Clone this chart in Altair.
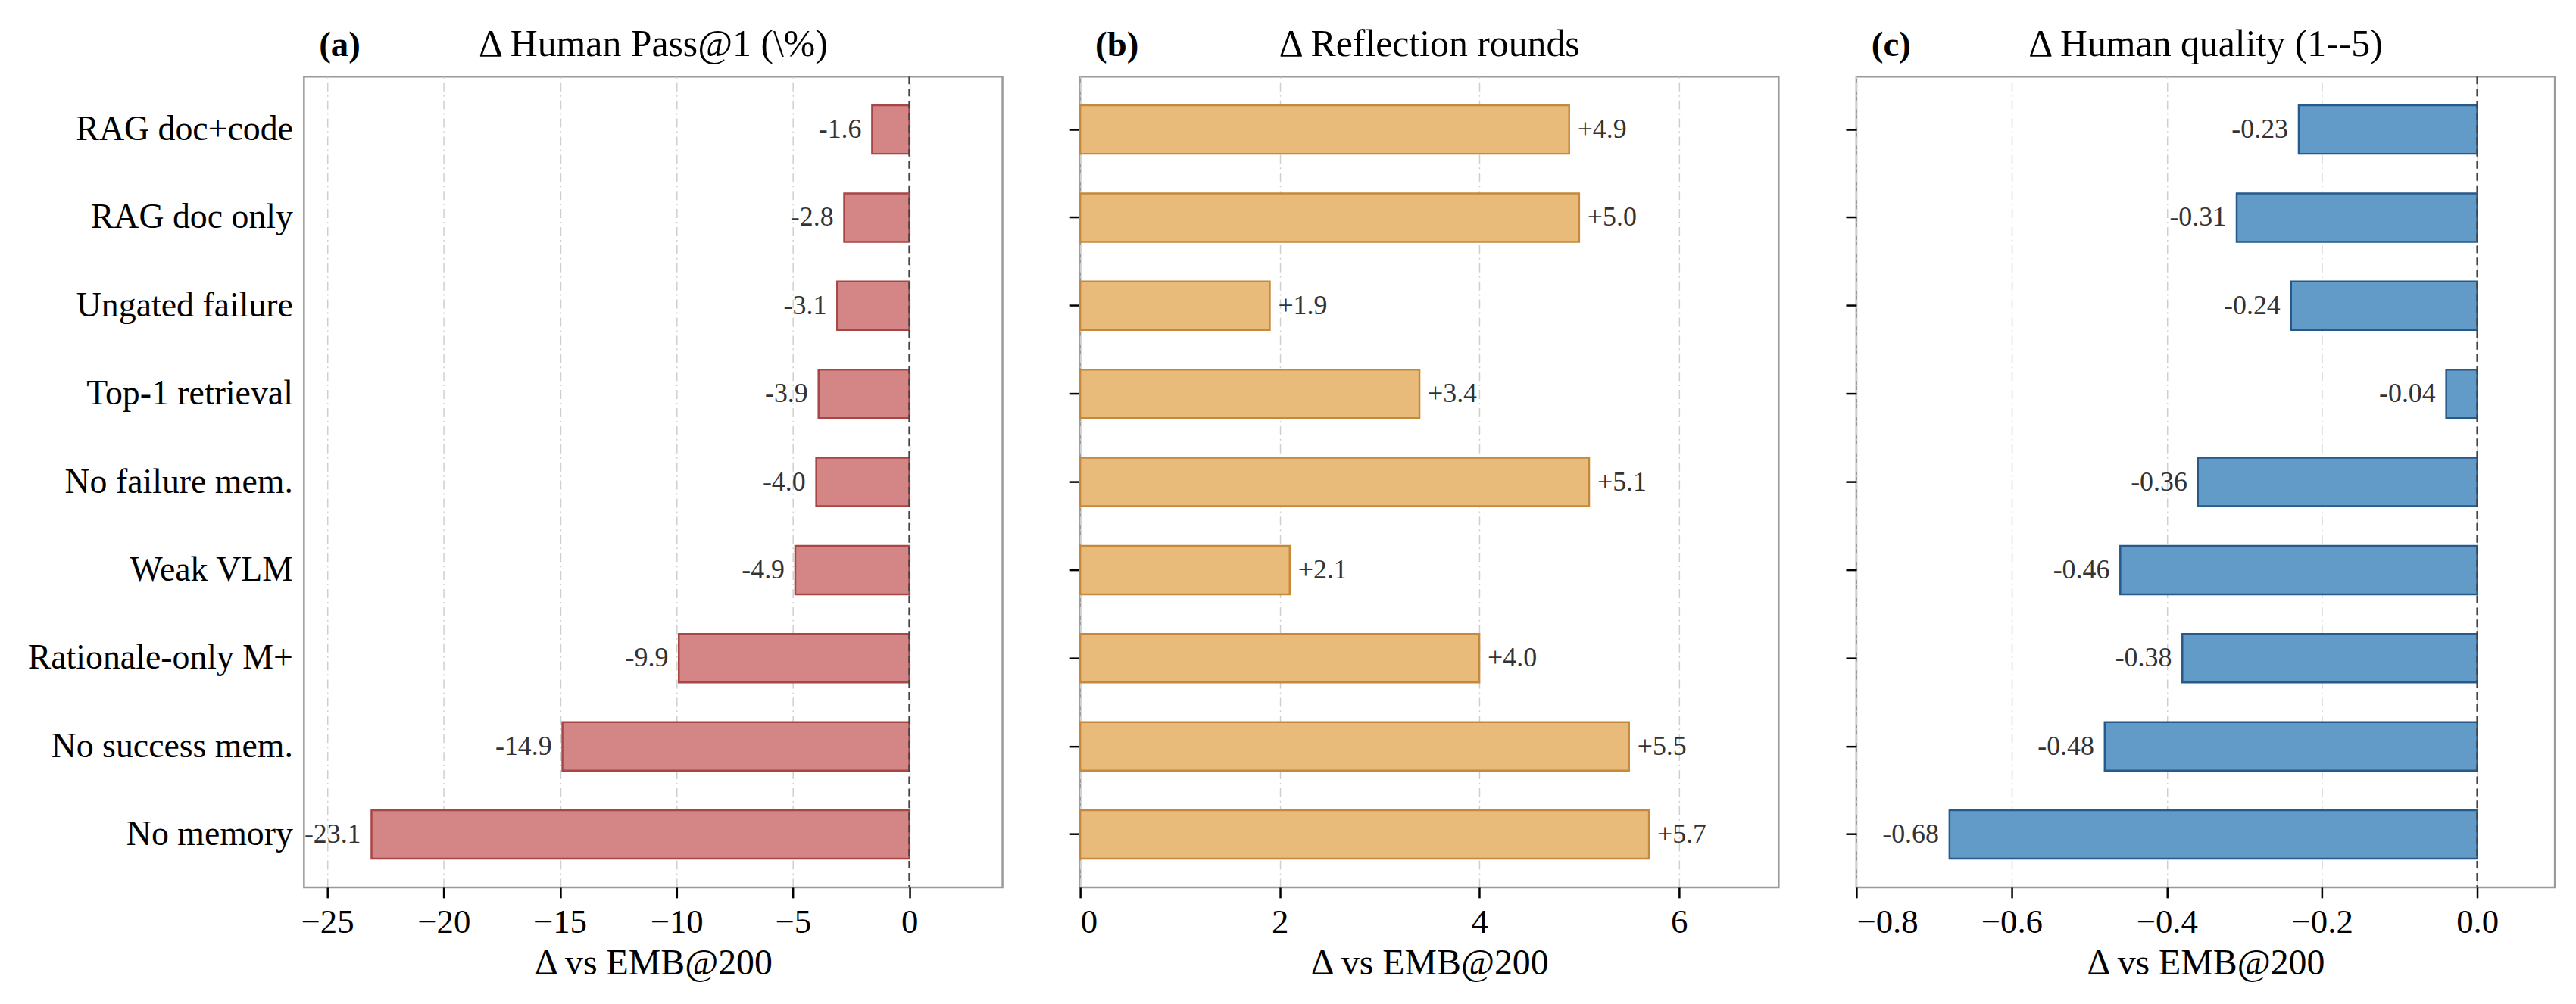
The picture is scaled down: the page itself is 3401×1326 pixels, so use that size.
import altair as alt
import pandas as pd

categories = ["RAG doc+code", "RAG doc only", "Ungated failure", "Top-1 retrieval",
              "No failure mem.", "Weak VLM", "Rationale-only M+", "No success mem.", "No memory"]
pass_delta = [-1.6, -2.8, -3.1, -3.9, -4.0, -4.9, -9.9, -14.9, -23.1]
refl_delta = [4.9, 5.0, 1.9, 3.4, 5.1, 2.1, 4.0, 5.5, 5.7]
qual_delta = [-0.23, -0.31, -0.24, -0.04, -0.36, -0.46, -0.38, -0.48, -0.68]

pass_ticks = [-25, -20, -15, -10, -5, 0]
refl_ticks = [0, 2, 4, 6]
qual_ticks = [-0.8, -0.6, -0.4, -0.2, 0.0]

titles = ["Δ Human Pass@1 (\\%)", "Δ Reflection rounds", "Δ Human quality (1--5)"]
tags = ["(a)", "(b)", "(c)"]
x_title = "Δ vs EMB@200"

FONT = "Liberation Serif"
W, H = 926, 1075
TICK = 14


def panel(values, labels, domain, ticks, fmt, fill, stroke, title, tag, side, first, zero_line):
    df = pd.DataFrame({"cat": categories, "val": values, "label": labels})
    if first:
        yaxis = alt.Axis(title=None, labels=True, ticks=False, domain=False,
                         labelFont=FONT, labelFontSize=46, labelColor="black",
                         labelLimit=0, labelPadding=15, minExtent=380, maxExtent=380)
    else:
        yaxis = alt.Axis(title=None, labels=False, ticks=True, tickSize=TICK, tickWidth=2.5,
                         tickColor="black", domain=False, minExtent=TICK, maxExtent=TICK)
    y = alt.Y("cat:N", sort=categories,
              scale=alt.Scale(paddingInner=0.45, paddingOuter=0.325), axis=yaxis)
    x = alt.X("val:Q", scale=alt.Scale(domain=domain, nice=False, zero=False),
              axis=alt.Axis(values=ticks, format=fmt, grid=True, gridColor="#cfcfcf",
                            gridDash=[12, 5, 2, 5], gridWidth=1.5, domain=False,
                            ticks=True, tickSize=TICK, tickWidth=2.5, tickColor="black",
                            labelFont=FONT, labelFontSize=45, labelColor="black",
                            labelPadding=10, title=x_title, titleFont=FONT,
                            titleFontSize=48, titleFontWeight="normal", titleColor="black",
                            titlePadding=8))
    base = alt.Chart(df)
    bars = base.mark_bar(fill=fill, stroke=stroke, strokeWidth=2.5).encode(
        x=x, x2=alt.datum(0), y=y)
    if side == "left":
        txt = base.mark_text(align="right", baseline="middle", dx=-14, font=FONT,
                             fontSize=36, color="#333333")
    else:
        txt = base.mark_text(align="left", baseline="middle", dx=11, font=FONT,
                             fontSize=36, color="#333333")
    txt = txt.encode(x="val:Q", y=alt.Y("cat:N", sort=categories), text="label:N")
    layers = [bars]
    if zero_line:
        rule = alt.Chart(pd.DataFrame({"z": [0]})).mark_rule(
            color="#444444", strokeDash=[10, 6], strokeWidth=2.5).encode(x=alt.X("z:Q"))
        layers.append(rule)
    layers.append(txt)
    head = pd.DataFrame({"t": [tag], "h": [title]})
    tag_chart = alt.Chart(head).mark_text(
        align="left", baseline="alphabetic", font=FONT, fontSize=47, fontWeight="bold",
        color="black").encode(text="t:N", x=alt.value(20), y=alt.value(-27))
    title_chart = alt.Chart(head).mark_text(
        align="center", baseline="alphabetic", font=FONT, fontSize=50,
        color="black").encode(text="h:N", x=alt.value(W / 2), y=alt.value(-27))
    layers += [tag_chart, title_chart]
    return alt.layer(*layers).properties(width=W, height=H)


a = panel(pass_delta, [f"{v:.1f}" for v in pass_delta], [-26, 4], pass_ticks, "d",
          "#d48686", "#a84545", titles[0], tags[0], "left", True, True)
b = panel(refl_delta, [f"{v:+.1f}" for v in refl_delta], [0, 7], refl_ticks, "d",
          "#e9bb7b", "#c4893b", titles[1], tags[1], "right", False, False)
c = panel(qual_delta, [f"{v:.2f}" for v in qual_delta], [-0.8, 0.1], qual_ticks, ".1f",
          "#639bc8", "#27598a", titles[2], tags[2], "left", False, True)

chart = alt.hconcat(a, b, c, spacing=98 - TICK).properties(
    padding={"left": 21, "right": 26, "top": 30, "bottom": 20},
    background="white",
).configure_view(stroke="#9a9a9a", strokeWidth=2.5).resolve_scale(y="independent")

chart.save("out.html", embed_options={"renderer": "svg", "actions": False})
